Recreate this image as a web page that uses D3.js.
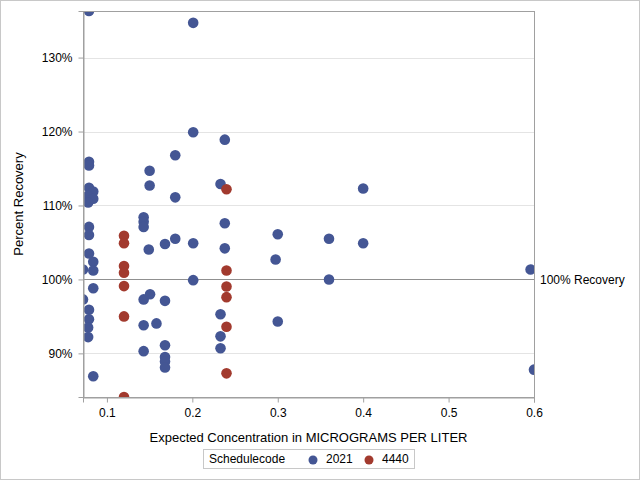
<!DOCTYPE html>
<html><head><meta charset="utf-8">
<script src="https://cdn.jsdelivr.net/npm/d3@7"></script>
<style>body{margin:0;background:#fff}svg{display:block}text{font-family:"Liberation Sans",Arial,sans-serif;fill:#000}</style>
</head><body>
<script>
const seriesNames = ["2021", "4440"];
const seriesColors = ["#445694", "#A23A2E"];
const x2021 = [0.079,0.079,0.079,0.079,0.084,0.078,0.084,0.078,0.079,0.079,0.079,0.084,0.072,0.084,0.084,0.072,0.079,0.079,0.078,0.078,0.084,
  0.143,0.143,0.143,0.143,0.143,0.143,
  0.150,0.150,0.149,0.1505,
  0.158,
  0.168,0.168,0.168,0.168,0.168,0.168,
  0.180,0.180,0.180,
  0.201,0.201,0.201,0.201,
  0.233,0.233,0.233,0.233,
  0.238,0.238,0.238,
  0.2975,0.300,0.300,
  0.360,0.360,
  0.400,0.400,
  0.596,0.600];
const y2021 = [136.3,115.9,115.4,112.4,111.9,111.3,110.9,110.4,107.1,106.0,103.5,102.4,101.35,101.2,98.8,97.3,95.9,94.6,93.5,92.2,86.9,
  108.4,107.8,107.1,97.3,93.8,90.3,
  114.7,112.7,104.05,98.0,
  94.05,
  104.8,97.1,91.1,89.5,88.9,88.1,
  116.8,111.1,105.5,
  134.7,119.9,104.9,99.9,
  112.9,95.3,92.3,90.7,
  118.9,107.6,104.2,
  102.7,106.1,94.3,
  105.5,100.0,
  112.3,104.9,
  101.35,87.8];
const x4440 = [0.12,0.12,0.12,0.12,0.12,0.12,0.12, 0.24,0.24,0.24,0.24,0.24,0.24];
const y4440 = [105.9,104.9,101.8,100.9,99.1,95.0,84.1, 112.2,101.2,99.05,97.6,93.6,87.3];
const xTicks = [0.1,0.2,0.3,0.4,0.5,0.6];
const yTicks = [90,100,110,120,130];
const refValue = 100;
const refLabel = "100% Recovery";
const xTitle = "Expected Concentration in MICROGRAMS PER LITER";
const yTitle = "Percent Recovery";
const legendTitle = "Schedulecode";

const W=640,H=480;
const m={l:83,r:534,t:11,b:397};
const svg=d3.select("body").append("svg").attr("width",W).attr("height",H);
svg.append("rect").attr("x",0.5).attr("y",0.5).attr("width",W-1).attr("height",H-1).attr("fill","#fff").attr("stroke","#c8c8c8");

const allX=x2021.concat(x4440), allY=y2021.concat(y4440);
const x=d3.scaleLinear().domain([d3.min(allX),d3.max(allX)]).range([m.l,m.r]);
const y=d3.scaleLinear().domain([d3.min(allY),d3.max(allY)]).range([m.b,m.t]);

// gridlines
svg.append("g").selectAll("line").data(yTicks).join("line")
  .attr("x1",m.l).attr("x2",m.r).attr("y1",d=>Math.round(y(d))+0.5).attr("y2",d=>Math.round(y(d))+0.5)
  .attr("stroke","#e4e4e4");
// ref line
svg.append("line").attr("x1",m.l).attr("x2",m.r).attr("y1",Math.round(y(refValue))+0.5).attr("y2",Math.round(y(refValue))+0.5).attr("stroke","#909090");
svg.append("text").attr("x",m.r+6).attr("y",y(refValue)).attr("dy","0.35em").style("font-size","12px").text(refLabel);

// points
svg.append("defs").append("clipPath").attr("id","clip").append("rect").attr("x",m.l).attr("y",m.t).attr("width",m.r-m.l).attr("height",m.b-m.t);
const pts=svg.append("g").attr("clip-path","url(#clip)");
const series=[x2021.map((v,i)=>({x:v,y:y2021[i],s:0})), x4440.map((v,i)=>({x:v,y:y4440[i],s:1}))];
series.forEach(arr=>{
  pts.selectAll(null).data(arr).join("circle")
    .attr("cx",d=>x(d.x)).attr("cy",d=>y(d.y)).attr("r",5.3).attr("fill",d=>seriesColors[d.s]);
});

// frame
svg.append("rect").attr("x",m.l+0.5).attr("y",m.t+0.5).attr("width",m.r-m.l).attr("height",m.b-m.t).attr("fill","none").attr("stroke","#a0a0a0");

// axes
const xa=svg.append("g").attr("transform",`translate(0,${m.b+0.5})`)
  .call(d3.axisBottom(x).tickValues(xTicks).tickFormat(d3.format(".1f")).tickSize(5).tickPadding(6));
const ya=svg.append("g").attr("transform",`translate(${m.l+0.5},0)`)
  .call(d3.axisLeft(y).tickValues(yTicks).tickFormat(d=>d+"%").tickSize(5).tickPadding(6));
[xa,ya].forEach(a=>{a.select(".domain").attr("stroke","#a0a0a0");a.selectAll(".tick line").attr("stroke","#a0a0a0");a.selectAll("text").style("font-size","12px").attr("fill","#000").style("font-family","'Liberation Sans',Arial,sans-serif");});

svg.append("text").attr("x",(m.l+m.r)/2).attr("y",442).attr("text-anchor","middle").style("font-size","13px").text(xTitle);
svg.append("text").attr("transform",`translate(23,${(m.t+m.b)/2}) rotate(-90)`).attr("text-anchor","middle").style("font-size","13px").text(yTitle);

// legend
const lg=svg.append("g");
lg.append("rect").attr("x",203.5).attr("y",449.5).attr("width",211).attr("height",19).attr("fill","#fff").attr("stroke","#c8c8c8");
lg.append("text").attr("x",209).attr("y",459).attr("dy","0.35em").style("font-size","12px").text(legendTitle);
const lx=[313,369];
seriesNames.forEach((n,i)=>{
  lg.append("circle").attr("cx",lx[i]).attr("cy",460).attr("r",4.5).attr("fill",seriesColors[i]);
  lg.append("text").attr("x",lx[i]+13).attr("y",459).attr("dy","0.35em").style("font-size","12px").text(n);
});
</script>
</body></html>
